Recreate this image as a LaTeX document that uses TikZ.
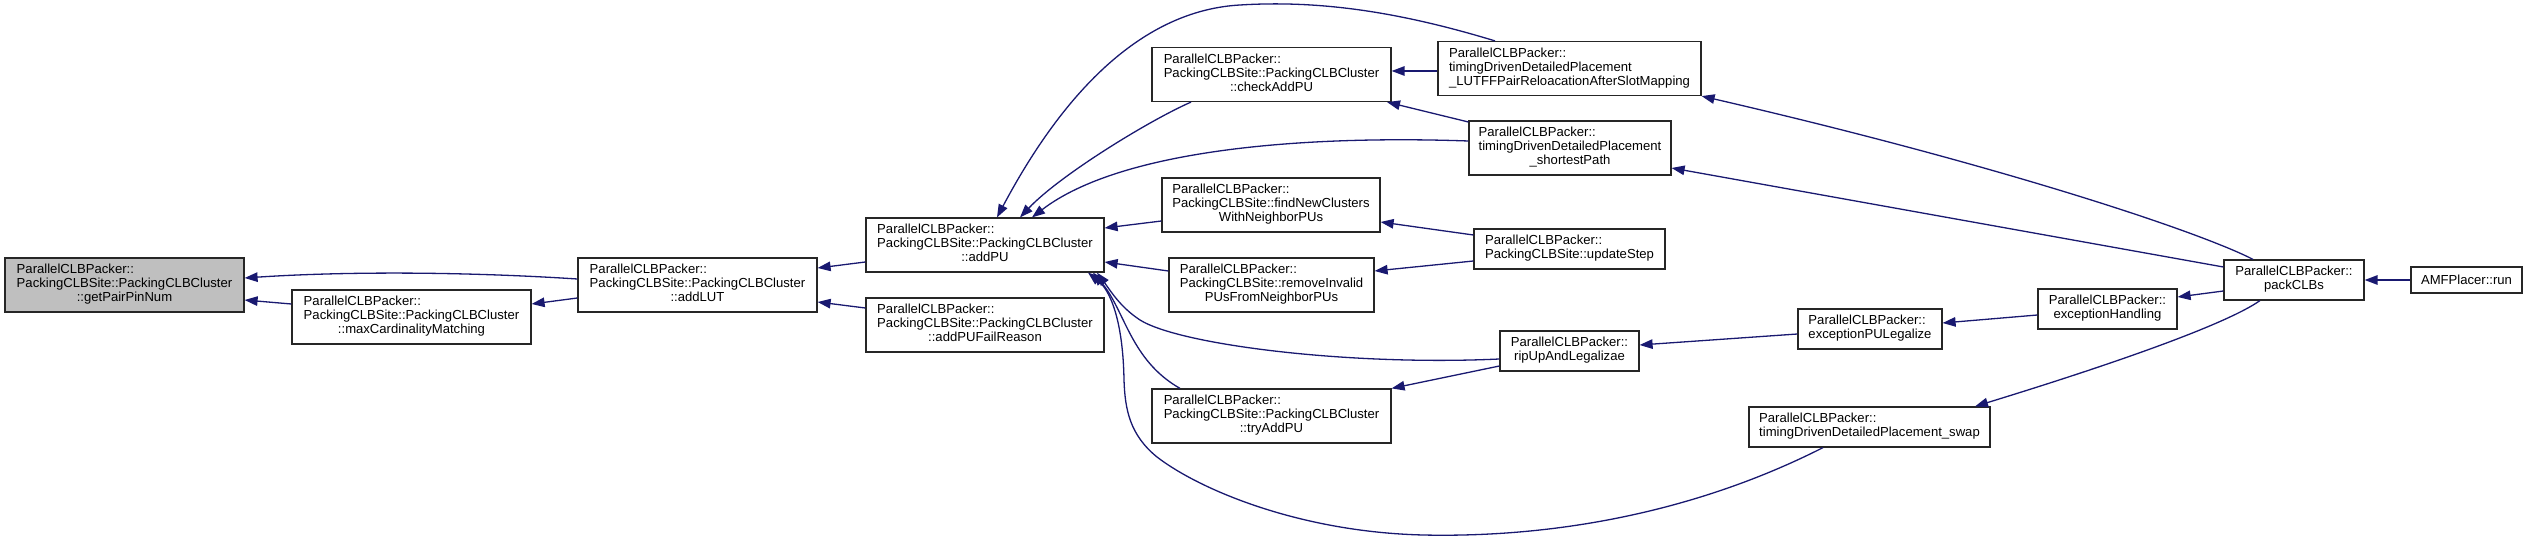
\documentclass[tikz,border=0pt]{standalone}
\usepackage{fontspec}
\setmainfont{Liberation Sans}
\usetikzlibrary{arrows.meta,calc}
\definecolor{edgeblue}{HTML}{191970}
\definecolor{rootgray}{HTML}{BFBFBF}
\newcommand\threelines[3]{\begin{tabular}{@{}l@{}}#1\\#2\\\multicolumn{1}{@{}c@{}}{#3}\end{tabular}}
\newcommand\twolines[2]{\begin{tabular}{@{}l@{}}#1\\\multicolumn{1}{@{}c@{}}{#2}\end{tabular}}
\tikzset{
  nd/.style={draw=black!85, fill=white, line width=1.2pt, inner sep=0pt,
    font=\fontsize{13.1}{14}\selectfont},
  root/.style={nd, fill=rootgray},
  edge/.style={draw=edgeblue, line width=1.3pt,
    -{Triangle[length=13pt,width=9.5pt,fill=edgeblue]}},
}
\begin{document}
\begin{tikzpicture}[x=1pt,y=-1pt]
\useasboundingbox (0,0) rectangle (2528,540);
% nodes
\node[root, minimum width=239pt, minimum height=54pt] (gp) at (124.5,285)
  {\threelines{ParallelCLBPacker::}{PackingCLBSite::PackingCLBCluster}{::getPairPinNum}};
\node[nd, minimum width=239pt, minimum height=54pt] (mc) at (411.5,317)
  {\threelines{ParallelCLBPacker::}{PackingCLBSite::PackingCLBCluster}{::maxCardinalityMatching}};
\node[nd, minimum width=239pt, minimum height=54pt] (al) at (697.5,285)
  {\threelines{ParallelCLBPacker::}{PackingCLBSite::PackingCLBCluster}{::addLUT}};
\node[nd, minimum width=238pt, minimum height=54pt] (ap) at (985,245)
  {\threelines{ParallelCLBPacker::}{PackingCLBSite::PackingCLBCluster}{::addPU}};
\node[nd, minimum width=238pt, minimum height=54pt] (af) at (985,325)
  {\threelines{ParallelCLBPacker::}{PackingCLBSite::PackingCLBCluster}{::addPUFailReason}};
\node[nd, minimum width=239pt, minimum height=54pt] (ca) at (1271.5,74.5)
  {\threelines{ParallelCLBPacker::}{PackingCLBSite::PackingCLBCluster}{::checkAddPU}};
\node[nd, minimum width=218pt, minimum height=54pt] (fn) at (1271,205)
  {\threelines{ParallelCLBPacker::}{PackingCLBSite::findNewClusters}{WithNeighborPUs}};
\node[nd, minimum width=205pt, minimum height=54pt] (ri) at (1271.5,285)
  {\threelines{ParallelCLBPacker::}{PackingCLBSite::removeInvalid}{PUsFromNeighborPUs}};
\node[nd, minimum width=239pt, minimum height=54pt] (ta) at (1271.5,416)
  {\threelines{ParallelCLBPacker::}{PackingCLBSite::PackingCLBCluster}{::tryAddPU}};
\node[nd, minimum width=263pt, minimum height=54pt] (lf) at (1569.5,68.5)
  {\threelines{ParallelCLBPacker::}{timingDrivenDetailedPlacement}{\_LUTFFPairReloacationAfterSlotMapping}};
\node[nd, minimum width=202pt, minimum height=54pt] (sp) at (1570,148)
  {\threelines{ParallelCLBPacker::}{timingDrivenDetailedPlacement}{\_shortestPath}};
\node[nd, minimum width=191pt, minimum height=40pt] (us) at (1569.5,249)
  {\twolines{ParallelCLBPacker::}{PackingCLBSite::updateStep}};
\node[nd, minimum width=139pt, minimum height=40pt] (ru) at (1569.5,351)
  {\twolines{ParallelCLBPacker::}{ripUpAndLegalizae}};
\node[nd, minimum width=144pt, minimum height=40pt] (el) at (1870,329)
  {\twolines{ParallelCLBPacker::}{exceptionPULegalize}};
\node[nd, minimum width=241pt, minimum height=40pt] (sw) at (1869.5,427)
  {\twolines{ParallelCLBPacker::}{timingDrivenDetailedPlacement\_swap}};
\node[nd, minimum width=139pt, minimum height=40pt] (eh) at (2107.5,309)
  {\twolines{ParallelCLBPacker::}{exceptionHandling}};
\node[nd, minimum width=140pt, minimum height=40pt] (pc) at (2294,280)
  {\twolines{ParallelCLBPacker::}{packCLBs}};
\node[nd, minimum width=111pt, minimum height=26pt] (am) at (2466.5,280)
  {AMFPlacer::run};
% edges (caller -> callee, head at callee)
\draw[edge] ($(al.west)+(0,-6)$) .. controls (470,272) and (350,271) .. ($(gp.east)+(0,-7)$);
\draw[edge] ($(mc.west)+(0,-13)$) -- ($(gp.east)+(0,15)$);
\draw[edge] ($(al.west)+(0,13)$) -- ($(mc.east)+(0,-13)$);
\draw[edge] ($(ap.west)+(0,17)$) -- ($(al.east)+(0,-17)$);
\draw[edge] ($(af.west)+(0,-17)$) -- ($(al.east)+(0,17)$);
\draw[edge] ($(ca.south)+(-80.5,0)$) .. controls (1150,120) and (1060,175) .. ($(ap.north)+(35,0)$);
\draw[edge] ($(lf.north)+(-74.5,0)$) .. controls (1400,12) and (1320,0) .. (1240,5)
  .. controls (1150,10) and (1070,80) .. ($(ap.north)+(12,0)$);
\draw[edge] ($(sp.west)+(0,-7)$) .. controls (1300,135) and (1120,150) .. ($(ap.north)+(47,0)$);
\draw[edge] ($(fn.west)+(0,16)$) -- ($(ap.east)+(0,-17)$);
\draw[edge] ($(ri.west)+(0,-14)$) -- ($(ap.east)+(0,17)$);
\draw[edge] ($(ru.west)+(0,8)$) .. controls (1350,366) and (1180,345) .. (1140,320)
  .. controls (1120,307) and (1110,290) .. ($(ap.south)+(112,0)$);
\draw[edge] ($(ta.north)+(-91.5,0)$) .. controls (1130,360) and (1125,310) .. ($(ap.south)+(108,0)$);
\draw[edge] ($(sw.south)+(-46.5,0)$) .. controls (1700,510) and (1560,538) .. (1423,535)
  .. controls (1300,532) and (1200,490) .. (1157,457)
  .. controls (1130,435) and (1125,410) .. (1124,380)
  .. controls (1123,320) and (1110,290) .. ($(ap.south)+(103,0)$);
\draw[edge] ($(lf.west)+(0,2.5)$) -- ($(ca.east)+(0,-3.5)$);
\draw[edge] ($(sp.west)+(0,-26)$) -- ($(ca.south)+(115.5,0)$);
\draw[edge] ($(us.west)+(0,-14)$) -- ($(fn.east)+(0,17)$);
\draw[edge] ($(us.west)+(0,12)$) -- ($(ri.east)+(0,-14)$);
\draw[edge] ($(ru.west)+(0,15)$) -- (ta.north east);
\draw[edge] ($(el.west)+(0,5)$) -- ($(ru.east)+(0,-6)$);
\draw[edge] ($(eh.west)+(0,6)$) -- ($(el.east)+(0,-6)$);
\draw[edge] ($(pc.west)+(0,11)$) -- ($(eh.east)+(0,-12)$);
\draw[edge] ($(pc.north)+(-41,0)$) .. controls (2200,232) and (2000,165) .. (lf.south east);
\draw[edge] ($(pc.west)+(0,-13)$) -- ($(sp.east)+(0,20)$);
\draw[edge] ($(pc.south)+(-34,0)$) .. controls (2225,325) and (2110,365) .. ($(sw.north)+(105.5,0)$);
\draw[edge] (am.west) -- (pc.east);
\end{tikzpicture}
\end{document}
